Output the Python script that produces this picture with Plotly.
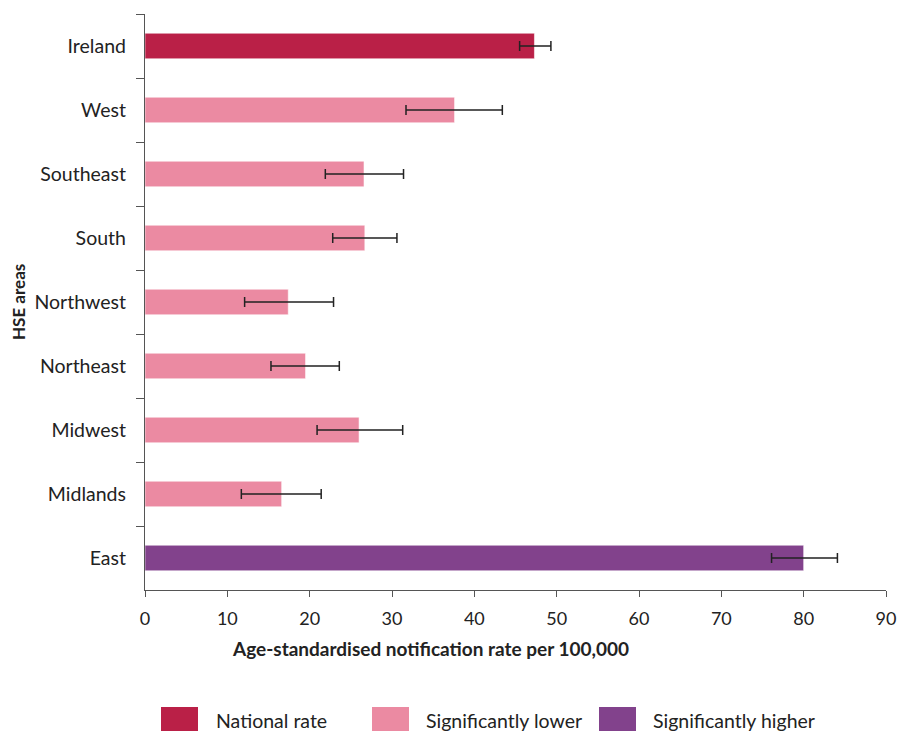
import plotly.graph_objects as go

# ---- data ----
areas = ["Ireland", "West", "Southeast", "South", "Northwest",
         "Northeast", "Midwest", "Midlands", "East"]
rates = [47.3, 37.6, 26.6, 26.7, 17.4, 19.5, 26.0, 16.6, 80.0]
ci_low = [45.5, 31.7, 21.9, 22.8, 12.1, 15.3, 20.9, 11.7, 76.1]
ci_high = [49.3, 43.4, 31.4, 30.6, 22.9, 23.6, 31.3, 21.4, 84.1]
groups = ["National rate", "Significantly lower", "Significantly lower",
          "Significantly lower", "Significantly lower", "Significantly lower",
          "Significantly lower", "Significantly lower", "Significantly higher"]
group_names = ["National rate", "Significantly lower", "Significantly higher"]
group_colors = {"National rate": "#BA2047",
                "Significantly lower": "#EB8AA2",
                "Significantly higher": "#82428C"}
x_ticks = [0, 10, 20, 30, 40, 50, 60, 70, 80, 90]
x_title = "Age-standardised notification rate per 100,000"
y_title = "HSE areas"

W, H = 902, 731
L, R, T, B = 145, 16, 14, 141
pw, ph = W - L - R, H - T - B

def px_x(p):
    return (p - L) / pw

def px_y(p):
    return (H - B - p) / ph

fig = go.Figure()
fig.add_trace(go.Bar(
    y=areas, x=rates, orientation="h", width=0.4,
    marker=dict(color=[group_colors[g] for g in groups],
                line=dict(color="rgba(255,255,255,0.55)", width=1)),
    error_x=dict(type="data", symmetric=False,
                 array=[h - r for h, r in zip(ci_high, rates)],
                 arrayminus=[r - l for r, l in zip(rates, ci_low)],
                 color="#222222", thickness=1.5, width=5),
    showlegend=False, hoverinfo="x+y",
))

font_main = "Lato, sans-serif"

fig.update_layout(
    width=W, height=H,
    margin=dict(l=L, r=R, t=T, b=B, pad=0),
    paper_bgcolor="white", plot_bgcolor="white",
    font=dict(family=font_main, size=18, color="#222222"),
    bargap=0.6,
    xaxis=dict(range=[0, 90], tickvals=x_ticks, showgrid=False, zeroline=False,
               showline=True, linecolor="#555555", linewidth=1.3,
               ticks="outside", ticklen=6, tickcolor="#555555",
               ticklabelstandoff=6,
               tickfont=dict(size=18, color="#222222"), fixedrange=True,
               automargin=False),
    yaxis=dict(categoryorder="array", categoryarray=areas, autorange="reversed",
               showgrid=False, zeroline=False, showline=True,
               linecolor="#555555", linewidth=1.3,
               ticks="outside", ticklen=8, tickcolor="#555555",
               tickson="boundaries", ticklabelstandoff=14,
               tickfont=dict(size=19.5, color="#222222"), fixedrange=True,
               automargin=False),
)

annotations = [
    dict(text="<b>" + x_title + "</b>", x=px_x(430), y=px_y(648),
         xref="paper", yref="paper", showarrow=False,
         xanchor="center", yanchor="middle", font=dict(size=19)),
    dict(text="<b>" + y_title + "</b>", x=px_x(18), y=0.5,
         xref="paper", yref="paper", showarrow=False, textangle=-90,
         xanchor="center", yanchor="middle", font=dict(size=17)),
]
shapes = []
legend_sq = [(161, 198), (372, 409), (599, 636)]
legend_tx = [214, 424, 651]
for name, (a, b), tx in zip(group_names, legend_sq, legend_tx):
    shapes.append(dict(type="rect", xref="paper", yref="paper",
                       x0=px_x(a), x1=px_x(b), y0=px_y(707), y1=px_y(733),
                       fillcolor=group_colors[name], line=dict(width=0)))
    annotations.append(dict(text=name, x=px_x(tx), y=px_y(720),
                            xref="paper", yref="paper", showarrow=False,
                            xanchor="left", yanchor="middle",
                            font=dict(size=19.5, color="#222222")))
fig.update_layout(annotations=annotations, shapes=shapes)

fig.write_html("out.html")
